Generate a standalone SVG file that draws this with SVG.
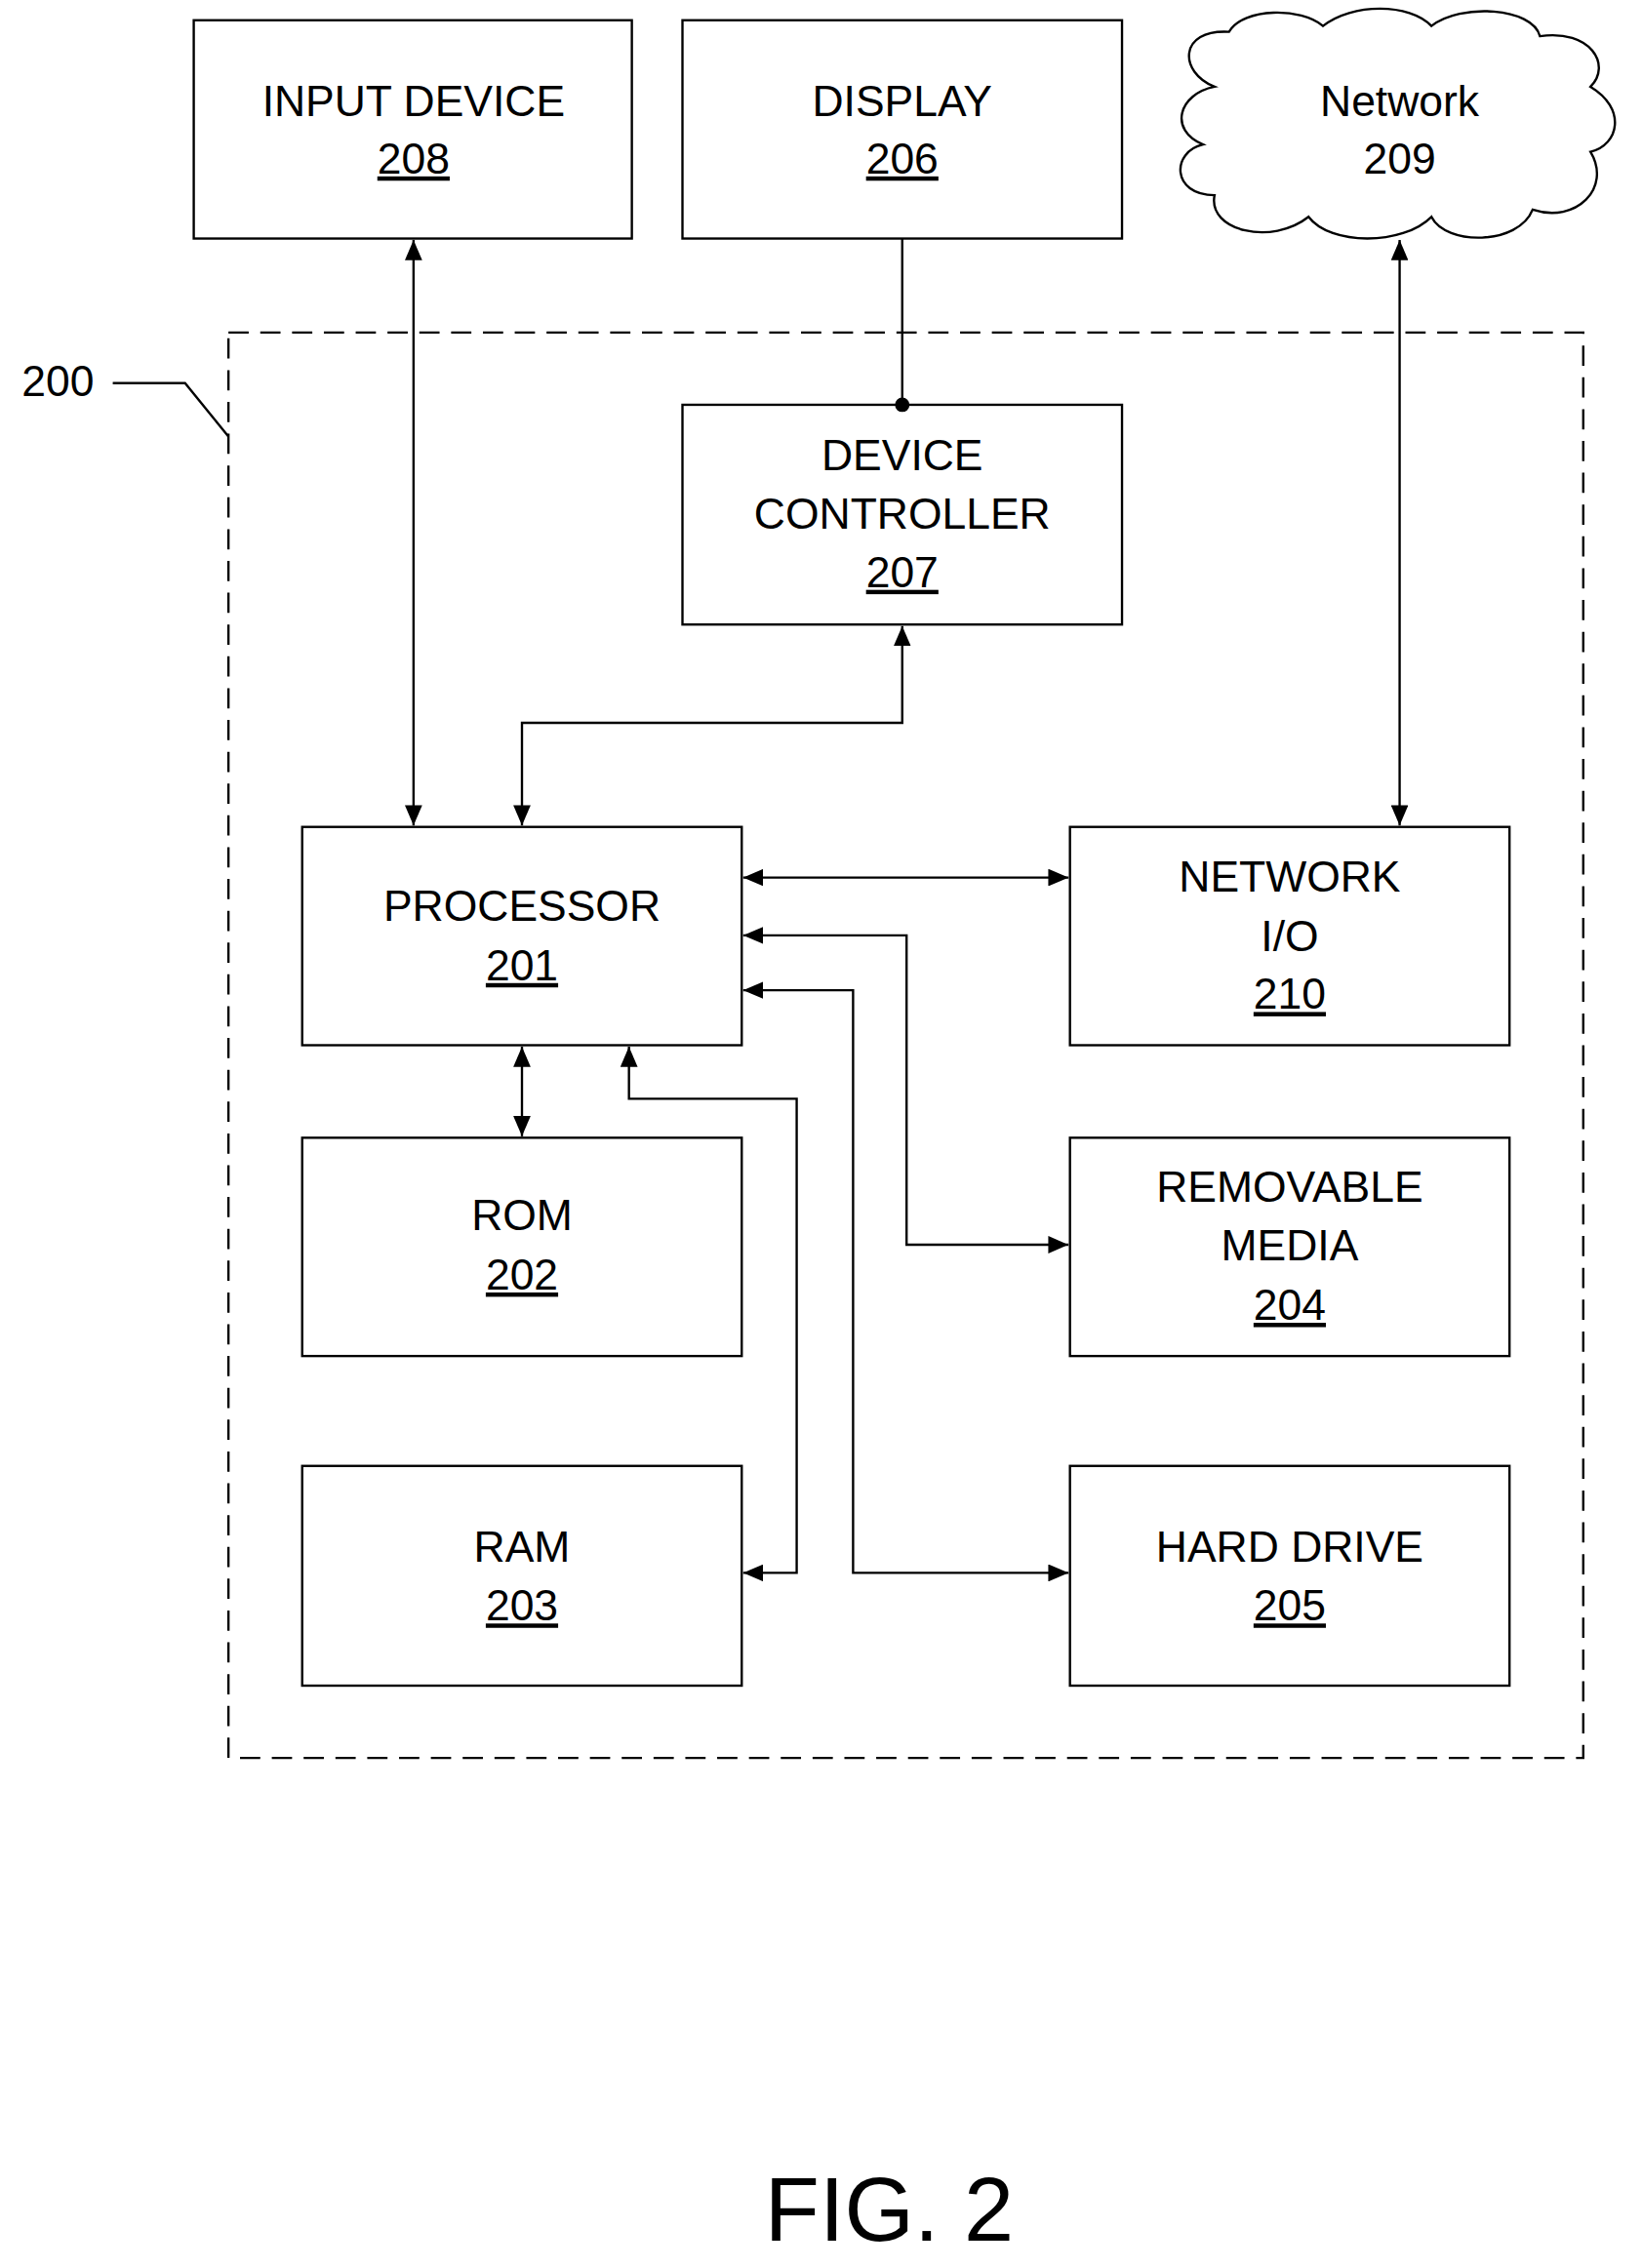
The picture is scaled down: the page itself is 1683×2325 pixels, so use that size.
<svg xmlns="http://www.w3.org/2000/svg" width="1683" height="2325" viewBox="0 0 1683 2325">
<style>
.box{fill:#fff;stroke:#000;stroke-width:1.6}
.t{font-family:"Liberation Sans",Arial,sans-serif;font-size:30px;text-anchor:middle;fill:#000}
.u{text-decoration:underline}
.c{fill:none;stroke:#000;stroke-width:1.6}
</style>
<defs>
<marker id="a" viewBox="0 0 14 12" refX="14" refY="6" markerWidth="14" markerHeight="12" markerUnits="userSpaceOnUse" orient="auto-start-reverse"><path d="M0,0 L14,6 L0,12 z" fill="#000"/></marker>
</defs>
<rect width="1683" height="2325" fill="#fff"/>
<g transform="scale(1.482)">
<g id="frame">
<rect x="158" y="230" width="937" height="986" fill="none" stroke="#000" stroke-width="1.6" stroke-dasharray="14,8"/>
<text class="t" x="40" y="274">200</text>
<path class="c" d="M78,265 L128,265 L158,302"/>
</g>
<g id="n208"><rect class="box" x="134" y="14" width="303" height="151"/><text class="t" x="286" y="80">INPUT DEVICE</text><text class="t u" x="286" y="120">208</text></g>
<g id="n206"><rect class="box" x="472" y="14" width="304" height="151"/><text class="t" x="624" y="80">DISPLAY</text><text class="t u" x="624" y="120">206</text></g>
<g id="n209"><path class="box" d="M840,60 C815,50 815,20 850,22 C860,5 900,5 915,18 C935,2 975,2 990,18 C1010,2 1060,5 1065,25 C1100,20 1115,45 1100,60 C1125,75 1120,100 1100,105 C1115,130 1090,155 1060,145 C1050,170 1000,170 990,150 C970,170 920,170 905,150 C880,170 835,160 840,135 C810,135 810,105 832,100 C808,90 815,65 840,60 Z"/><text class="t" x="968" y="80">Network</text><text class="t" x="968" y="120">209</text></g>
<g id="n207"><rect class="box" x="472" y="280" width="304" height="152"/><text class="t" x="624" y="325">DEVICE</text><text class="t" x="624" y="366">CONTROLLER</text><text class="t u" x="624" y="406">207</text></g>
<g id="n201"><rect class="box" x="209" y="572" width="304" height="151"/><text class="t" x="361" y="637">PROCESSOR</text><text class="t u" x="361" y="678">201</text></g>
<g id="n210"><rect class="box" x="740" y="572" width="304" height="151"/><text class="t" x="892" y="617">NETWORK</text><text class="t" x="892" y="658">I/O</text><text class="t u" x="892" y="698">210</text></g>
<g id="n202"><rect class="box" x="209" y="787" width="304" height="151"/><text class="t" x="361" y="851">ROM</text><text class="t u" x="361" y="892">202</text></g>
<g id="n204"><rect class="box" x="740" y="787" width="304" height="151"/><text class="t" x="892" y="831">REMOVABLE</text><text class="t" x="892" y="872">MEDIA</text><text class="t u" x="892" y="913">204</text></g>
<g id="n203"><rect class="box" x="209" y="1014" width="304" height="152"/><text class="t" x="361" y="1080">RAM</text><text class="t u" x="361" y="1121">203</text></g>
<g id="n205"><rect class="box" x="740" y="1014" width="304" height="152"/><text class="t" x="892" y="1080">HARD DRIVE</text><text class="t u" x="892" y="1121">205</text></g>
<g id="connectors">
<path class="c" d="M286,166 L286,571" marker-start="url(#a)" marker-end="url(#a)"/>
<path class="c" d="M624,165 L624,280"/><circle cx="624" cy="280" r="5" fill="#000"/>
<path class="c" d="M361,571 L361,500 L624,500 L624,433" marker-start="url(#a)" marker-end="url(#a)"/>
<path class="c" d="M968,166 L968,571" marker-start="url(#a)" marker-end="url(#a)"/>
<path class="c" d="M514,607 L739,607" marker-start="url(#a)" marker-end="url(#a)"/>
<path class="c" d="M514,647 L627,647 L627,861 L739,861" marker-start="url(#a)" marker-end="url(#a)"/>
<path class="c" d="M514,685 L590,685 L590,1088 L739,1088" marker-start="url(#a)" marker-end="url(#a)"/>
<path class="c" d="M361,724 L361,786" marker-start="url(#a)" marker-end="url(#a)"/>
<path class="c" d="M435,724 L435,760 L551,760 L551,1088 L514,1088" marker-start="url(#a)" marker-end="url(#a)"/>
</g>
<text x="615" y="1550" style="font-family:'Liberation Sans',Arial,sans-serif;font-size:62px;text-anchor:middle">FIG. 2</text>
</g>
</svg>
